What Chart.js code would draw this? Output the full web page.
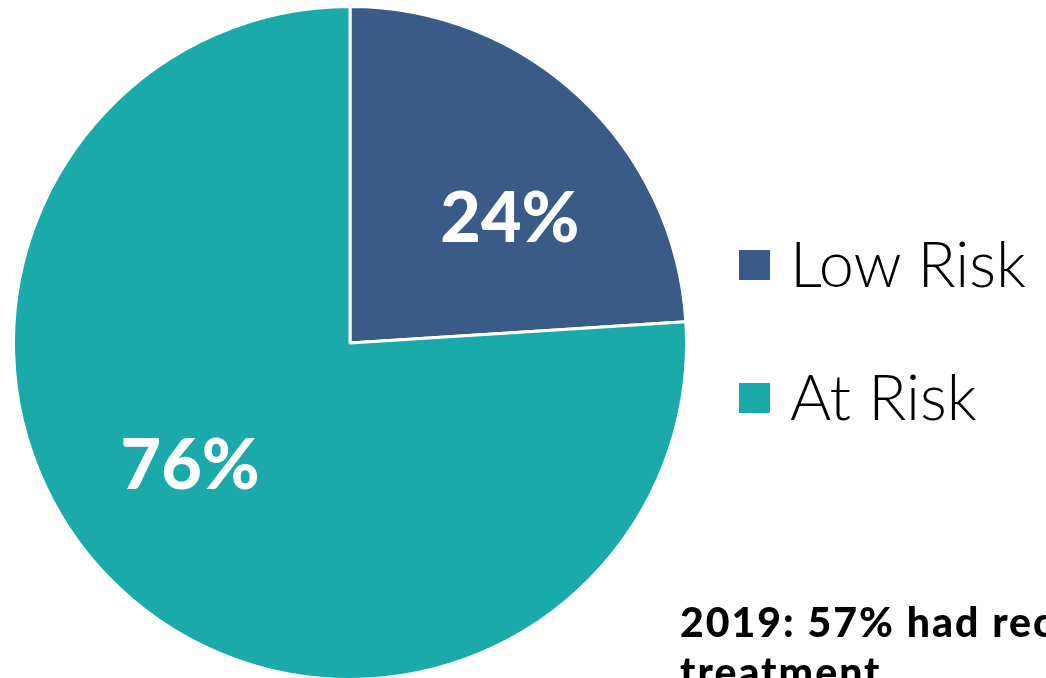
<!DOCTYPE html>
<html>
<head>
<meta charset="utf-8">
<script src="https://cdn.jsdelivr.net/npm/chart.js@4"></script>
<style>
html, body { margin: 0; padding: 0; width: 1046px; height: 678px; overflow: hidden; background: #fff; }
#wrap { position: absolute; left: 12px; top: 5px; width: 676px; height: 676px; }
#legend { position: absolute; left: 739px; top: 222px; font-family: Lato, sans-serif; font-weight: 300; }
.item { display: flex; align-items: center; height: 80px; margin-bottom: 53px; font-size: 63px; color: #000; }
.box { width: 31px; height: 30px; margin-right: 20px; margin-top: 6px; }
#note { position: absolute; left: 680px; top: 597px; font-family: Lato, sans-serif; font-weight: 900; font-size: 41px; letter-spacing: 2px; line-height: 50px; white-space: nowrap; color: #000; }
</style>
</head>
<body>
<div id="wrap"><canvas id="piechart"></canvas></div>
<div id="legend"></div>
<div id="note">2019: 57% had received<br>treatment</div>
<script>
var labels = ["Low Risk", "At Risk"];
var values = [24, 76];
var colors = ["#3A5A88", "#1BAAAA"];

// percent labels drawn on each slice
var sliceLabels = {
    id: 'sliceLabels',
    afterDatasetsDraw: function(chart) {
        var ctx = chart.ctx;
        var meta = chart.getDatasetMeta(0);
        ctx.save();
        ctx.fillStyle = '#fff';
        ctx.font = '900 70px Lato, sans-serif';
        ctx.textAlign = 'center';
        ctx.textBaseline = 'middle';
        meta.data.forEach(function(arc, i) {
            var p = arc.getProps(['x', 'y', 'startAngle', 'endAngle', 'outerRadius']);
            var mid = (p.startAngle + p.endAngle) / 2 + 0.16;
            var r = p.outerRadius * 0.6;
            ctx.fillText(values[i] + '%', p.x + Math.cos(mid) * r, p.y + Math.sin(mid) * r);
        });
        ctx.restore();
    }
};

var chart1 = document.getElementById("piechart");
var myChart1 = new Chart(chart1, {
type: 'pie',
data: {
    labels: labels,
    datasets: [{
        data: values,
        backgroundColor: colors,
        borderColor: '#fff',
        borderWidth: 3
    }]
},
options: {
    responsive: true,
    maintainAspectRatio: false,
    animation: false,
    plugins: {
        legend: { display: false },
        tooltip: { enabled: false }
    }
},
plugins: [sliceLabels]
});

var legend = document.getElementById("legend");
labels.forEach(function(l, i) {
    var item = document.createElement('div');
    item.className = 'item';
    var box = document.createElement('span');
    box.className = 'box';
    box.style.background = colors[i];
    item.appendChild(box);
    item.appendChild(document.createTextNode(l));
    legend.appendChild(item);
});
</script>
</body>
</html>
